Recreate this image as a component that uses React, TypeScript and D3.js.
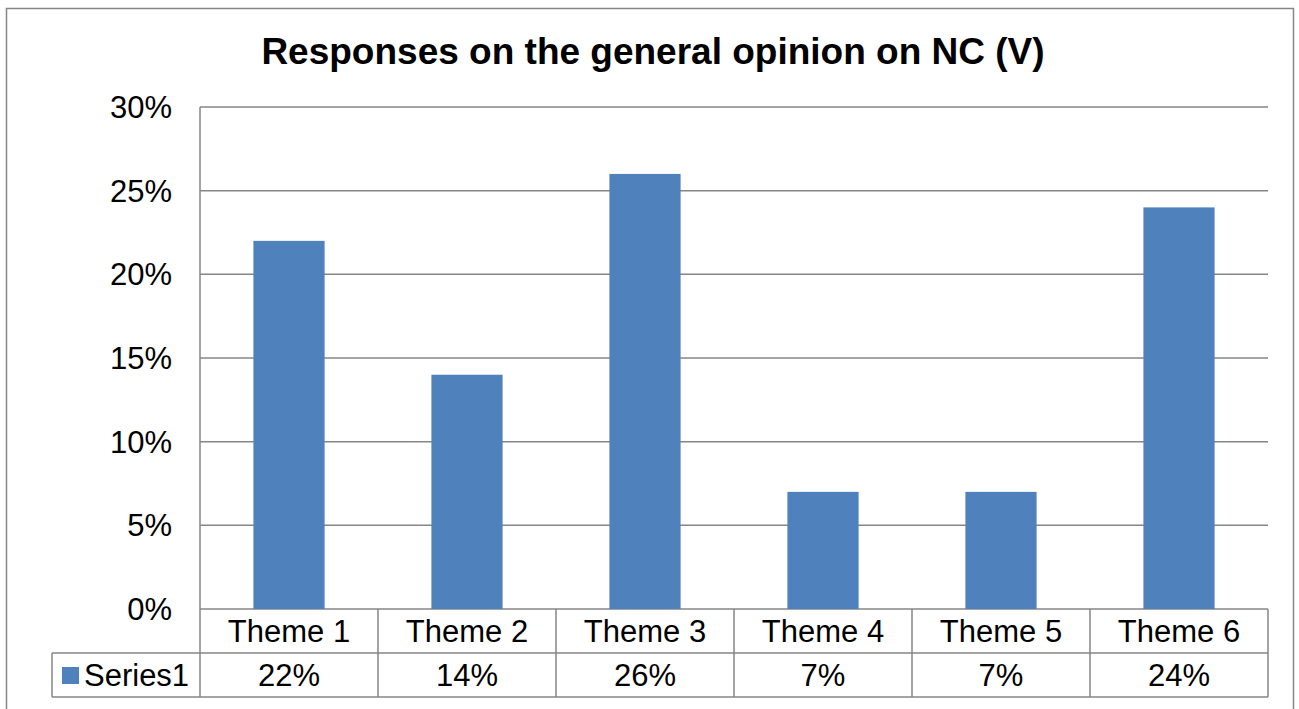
import React from "react";
import * as d3 from "d3";

const categories = ["Theme 1", "Theme 2", "Theme 3", "Theme 4", "Theme 5", "Theme 6"];
const series1 = [0.22, 0.14, 0.26, 0.07, 0.07, 0.24];
const seriesName = "Series1";
const yTicks = [0, 0.05, 0.1, 0.15, 0.2, 0.25, 0.3];
const title = "Responses on the general opinion on NC (V)";

export default function App() {
  const W = 1299, H = 709;
  const left = 200, right = 1268, top = 107, bottom = 609;
  const row1 = 653, row2 = 697, legendLeft = 52;
  const grey = "#868686";
  const font = "'Liberation Sans', Arial, sans-serif";

  const x = d3.scaleBand<string>().domain(categories).range([left, right]).paddingInner(0.6).paddingOuter(0.3);
  const xCell = d3.scaleBand<string>().domain(categories).range([left, right]);
  const y = d3.scaleLinear().domain([0, 0.3]).range([bottom, top]);
  const fmt = d3.format(".0%");

  return (
    <svg width={W} height={H} style={{ position: "absolute", left: 0, top: 0, background: "#fff" }}>
      <rect x={6.5} y={8.5} width={1287} height={720} fill="#fff" stroke={grey} strokeWidth={1.5} />
      <text x={653} y={64} textAnchor="middle" fontFamily={font} fontWeight="bold" fontSize={37}>{title}</text>
      {yTicks.map((t) => (
        <g key={t}>
          <line x1={left} x2={right} y1={y(t)} y2={y(t)} stroke={grey} strokeWidth={1.5} />
          <text x={172} y={y(t) + 11} textAnchor="end" fontFamily={font} fontSize={31}>{fmt(t)}</text>
        </g>
      ))}
      {categories.map((c, i) => (
        <rect key={c} x={x(c)} y={y(series1[i])} width={x.bandwidth()} height={bottom - y(series1[i])} fill="#4F81BD" />
      ))}
      <line x1={left} x2={left} y1={top} y2={row2} stroke={grey} strokeWidth={1.5} />
      <line x1={legendLeft} x2={right} y1={row1} y2={row1} stroke={grey} strokeWidth={1.5} />
      <line x1={legendLeft} x2={right} y1={row2} y2={row2} stroke={grey} strokeWidth={1.5} />
      <line x1={legendLeft} x2={legendLeft} y1={row1} y2={row2} stroke={grey} strokeWidth={1.5} />
      {categories.map((c, i) => (
        <g key={"cell" + c}>
          <line x1={(xCell(c) as number) + xCell.bandwidth()} x2={(xCell(c) as number) + xCell.bandwidth()} y1={bottom} y2={row2} stroke={grey} strokeWidth={1.5} />
          <text x={(xCell(c) as number) + xCell.bandwidth() / 2} y={642} textAnchor="middle" fontFamily={font} fontSize={31}>{c}</text>
          <text x={(xCell(c) as number) + xCell.bandwidth() / 2} y={686} textAnchor="middle" fontFamily={font} fontSize={31}>{fmt(series1[i])}</text>
        </g>
      ))}
      <rect x={62} y={667} width={17} height={17} fill="#4F81BD" />
      <text x={84} y={686} fontFamily={font} fontSize={31}>{seriesName}</text>
    </svg>
  );
}
